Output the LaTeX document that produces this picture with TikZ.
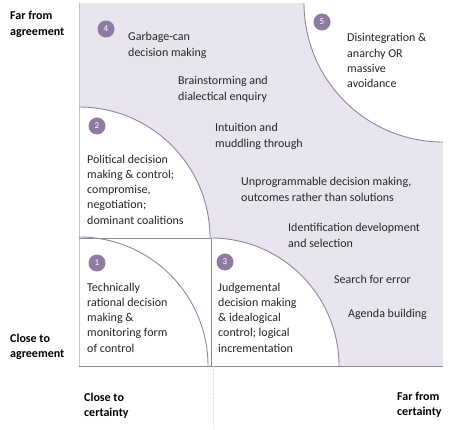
\documentclass[tikz,border=0pt]{standalone}
\usepackage{fontspec}
\setmainfont{Carlito}
\tikzset{
  numdot/.style={circle, fill=numcol, text=white, inner sep=0pt, minimum size=17pt, font=\fontsize{9}{9}\selectfont},
  txt/.style={anchor=base west, align=left, inner sep=0pt, text=txtcol, font=\fontsize{12}{15.3}\selectfont},
  axis/.style={anchor=base west, align=left, inner sep=0pt, font=\fontsize{12}{15.3}\selectfont\bfseries},
  edge/.style={draw=linecol, line width=0.9pt}
}
\begin{document}
\begin{tikzpicture}[x=1pt, y=1pt]
\definecolor{back}{HTML}{E9E5EE}
\definecolor{numcol}{HTML}{8E7BA1}
\definecolor{linecol}{HTML}{9284A6}
\definecolor{txtcol}{HTML}{262626}
\useasboundingbox (0,0) rectangle (455,429);
% areas
\fill[back] (79,63) rectangle (443,426);
\fill[white] (79,63) rectangle (211,191);
\fill[white] (79,191) -- (79,322) arc[start angle=90, end angle=0, radius=131] -- cycle;
\fill[white] (211,63) -- (211,191) arc[start angle=90, end angle=0, radius=128] -- cycle;
\fill[white] (443,426) -- (304,426) arc[start angle=180, end angle=270, radius=139] -- cycle;
% lines
\draw[draw=linecol!50, line width=0.8pt] (79,426) -- (79,63);
\draw[edge] (79,63) -- (443,63);
\draw[edge] (79,191) -- (211,191) -- (211,63);
\draw[edge] (79,192) arc[start angle=90, end angle=0, radius=129];
\draw[edge] (79,322) arc[start angle=90, end angle=0, radius=131];
\draw[edge] (211,191) arc[start angle=90, end angle=0, radius=128];
\draw[edge] (304,426) arc[start angle=180, end angle=270, radius=139];
\draw[gray!25, densely dotted] (213,63) -- (213,0);
% numbers
\node[numdot] (n1) at (97,166) {1};
\node[numdot] (n2) at (97,303) {2};
\node[numdot] (n3) at (225,167) {3};
\node[numdot] (n4) at (106,400) {4};
\node[numdot] (n5) at (322,407) {5};
% texts (placed at the baseline of their last line)
\node[txt] (t1) at (87,76.8) {Technically\\rational decision\\making \&\\monitoring form\\of control};
\node[txt] (t2) at (87,204.8) {Political decision\\making \& control;\\compromise,\\negotiation;\\dominant coalitions};
\node[txt] (t3) at (218,76.8) {Judgemental\\decision making\\\& idealogical\\control; logical\\incrementation};
\node[txt] (t4) at (128,372.7) {Garbage-can\\decision making};
\node[txt] (t5) at (347,341.1) {Disintegration \&\\anarchy OR\\massive\\avoidance};
\node[txt] (brain) at (178,328.7) {Brainstorming and\\dialectical enquiry};
\node[txt] (intu) at (215,281.7) {Intuition and\\muddling through};
\node[txt] (unprog) at (241,227.7) {Unprogrammable decision making,\\outcomes rather than solutions};
\node[txt] (ident) at (288,181.7) {Identification development\\and selection};
\node[txt] (search) at (334,146) {Search for error};
\node[txt] (agenda) at (348,112) {Agenda building};
% axis labels
\node[axis] (farag) at (10,393.7) {Far from\\agreement};
\node[axis] (closeag) at (10,71.7) {Close to\\agreement};
\node[axis] (closecert) at (84,12.7) {Close to\\certainty};
\node[axis] (farcert) at (397,13.7) {Far from\\certainty};
\end{tikzpicture}
\end{document}
